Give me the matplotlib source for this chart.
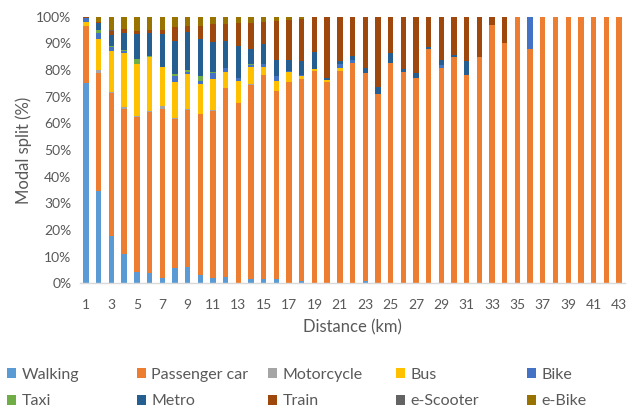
import matplotlib
matplotlib.use("Agg")
import matplotlib.pyplot as plt
import numpy as np
from matplotlib.patches import Patch

plt.rcParams['font.family'] = ['Lato', 'DejaVu Sans']

distance = list(range(1, 44))

walking = [75.3, 34.7, 17.9, 11.0, 4.4, 3.7, 2.1, 5.9, 6.2, 3.1, 2.1, 2.4, 0, 1.5, 1.7,
           1.5, 0, 0.8, 0, 0, 0, 0, 0.9, 0, 0, 0, 0, 0, 0, 0, 0, 0, 0, 0, 0, 0, 0, 0,
           0, 0, 0, 0, 0]
passenger_car = [21.2, 44.1, 53.4, 54.2, 57.9, 60.6, 63.2, 55.6, 58.7, 60.4, 62.5, 71.0,
                 67.5, 72.8, 76.3, 70.7, 75.6, 75.8, 79.6, 75.5, 79.7, 82.7, 78.1, 71.0,
                 82.5, 79.4, 76.9, 87.8, 80.6, 85.0, 78.1, 85.0, 96.9, 90.2, 100, 87.8,
                 100, 100, 100, 100, 100, 100, 100]
motorcycle = [0, 1.2, 0.6, 0.8, 0.5, 0.5, 1.2, 0.4, 0.6, 0, 0.4, 0, 0, 0.5, 0, 0, 0, 0,
              0, 0, 0, 0, 0, 0, 0, 0, 0, 0, 0, 0, 0, 0, 0, 0, 0, 0, 0, 0, 0, 0, 0, 0, 0]
bus = [1.4, 11.5, 15.2, 20.2, 19.5, 20.0, 14.7, 13.7, 12.9, 11.3, 11.6, 5.7, 8.5, 6.5,
       3.0, 3.6, 3.5, 1.2, 0.8, 0.7, 0.9, 0, 0, 0, 0, 0, 0, 0, 0, 0, 0, 0, 0, 0, 0, 0,
       0, 0, 0, 0, 0, 0, 0]
bike = [1.5, 2.3, 1.5, 0.8, 0, 0, 0, 2.3, 0.9, 1.0, 2.2, 1.5, 1.1, 0.5, 1.3, 2.0, 0.5,
        0.3, 0, 0, 1.7, 1.0, 0, 0, 0, 0, 0, 0, 1.4, 0, 0, 0, 0, 0, 0, 12.2, 0, 0, 0, 0,
        0, 0, 0]
taxi = [0, 1.2, 0.5, 0.5, 1.9, 0.5, 0, 0.6, 0.7, 2.0, 0.5, 0, 0, 0.5, 0, 0, 0, 0, 0, 0,
        0, 0, 0, 0, 0, 0, 0, 0, 0, 0, 0, 0, 0, 0, 0, 0, 0, 0, 0, 0, 0, 0, 0]
metro = [0.2, 2.5, 3.9, 6.3, 9.3, 8.5, 12.3, 12.4, 14.2, 13.7, 11.3, 10.3, 12.0, 5.4,
         7.4, 5.9, 4.1, 5.4, 6.5, 0.9, 1.1, 1.7, 1.9, 2.7, 4.0, 0.9, 2.1, 0.7, 1.8, 0.6,
         5.3, 0, 0, 0, 0, 0, 0, 0, 0, 0, 0, 0, 0]
train = [0.1, 0.4, 1.6, 1.6, 1.2, 1.2, 1.5, 5.4, 2.3, 5.1, 6.5, 6.2, 8.7, 10.1, 8.4,
         14.6, 15.1, 15.6, 13.1, 22.9, 16.6, 14.6, 19.1, 26.3, 13.5, 19.7, 21.0, 11.5,
         16.2, 14.4, 16.6, 15.0, 3.1, 9.8, 0, 0, 0, 0, 0, 0, 0, 0, 0]
e_scooter = [0, 0, 0.4, 0, 0, 0, 0, 0, 0, 0, 0, 0, 0, 0, 0, 0, 0, 0, 0, 0, 0, 0, 0, 0,
             0, 0, 0, 0, 0, 0, 0, 0, 0, 0, 0, 0, 0, 0, 0, 0, 0, 0, 0]
e_bike = [0.3, 2.1, 5.0, 4.6, 5.3, 5.0, 5.0, 3.7, 3.5, 3.4, 2.9, 2.9, 2.2, 2.2, 1.9,
          1.7, 1.2, 0.9, 0, 0, 0, 0, 0, 0, 0, 0, 0, 0, 0, 0, 0, 0, 0, 0, 0, 0, 0, 0, 0,
          0, 0, 0, 0]

modes = ["Walking", "Passenger car", "Motorcycle", "Bus", "Bike",
         "Taxi", "Metro", "Train", "e-Scooter", "e-Bike"]
series = [walking, passenger_car, motorcycle, bus, bike,
          taxi, metro, train, e_scooter, e_bike]
colors = ["#5B9BD5", "#ED7D31", "#A5A5A5", "#FFC000", "#4472C4",
          "#70AD47", "#255E91", "#9E480E", "#636363", "#997300"]

text_color = "#595959"
W, H = 628, 407

fig = plt.figure(figsize=(W / 100, H / 100), dpi=100)
ax = fig.add_axes([0.127, 0.304, 0.8687, 0.655])

x = np.array(distance)
bottom = np.zeros(len(distance))
for name, vals, c in zip(modes, series, colors):
    v = np.array(vals, dtype=float)
    ax.bar(x, v, bottom=bottom, width=0.42, color=c, label=name, linewidth=0)
    bottom += v

ax.set_xlim(0.5, 43.5)
ax.set_ylim(0, 100)
ax.set_yticks(np.arange(0, 101, 10))
ax.set_yticklabels([f"{t}%" for t in range(0, 101, 10)])
ax.set_xticks(distance[::2])
ax.set_xticklabels([str(d) for d in distance[::2]])

for s in ["top", "right", "left"]:
    ax.spines[s].set_visible(False)
ax.spines["bottom"].set_color("#D9D9D9")
ax.spines["bottom"].set_linewidth(1.0)
ax.tick_params(axis="both", length=0, labelsize=10, colors=text_color)
ax.tick_params(axis="x", pad=11)
ax.tick_params(axis="y", pad=6)

ax.set_xlabel("Distance (km)", fontsize=12, color=text_color, labelpad=6)
ax.set_ylabel("Modal split (%)", fontsize=12, color=text_color, labelpad=3)

# legend: five columns of two entries, laid out row by row
col_x = [7, 137, 268, 396, 527]
for j, xpx in enumerate(col_x):
    idx = [j, j + 5]
    handles = [Patch(facecolor=colors[i], edgecolor="none") for i in idx]
    labels = [modes[i] for i in idx]
    leg = fig.legend(handles, labels, loc="center left",
                     bbox_to_anchor=(xpx / W, 1 - 388 / H),
                     frameon=False, fontsize=11.5, handlelength=0.55,
                     handleheight=0.55, handletextpad=0.35, labelspacing=0.8,
                     borderaxespad=0.0, borderpad=0.0)
    for t in leg.get_texts():
        t.set_color(text_color)

fig.savefig("out.png", dpi=100)
